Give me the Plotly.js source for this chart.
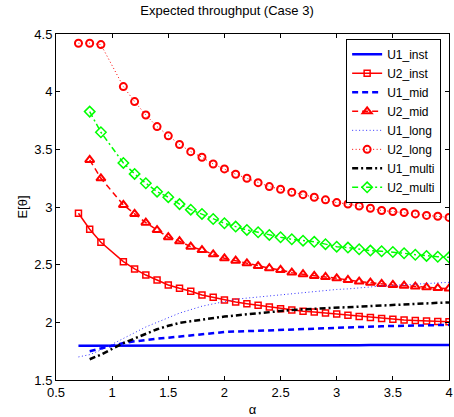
<!DOCTYPE html>
<html>
<head>
<meta charset="utf-8">
<script src="https://cdn.plot.ly/plotly-3.0.1.min.js"></script>
<style>html,body{margin:0;padding:0;background:#fff;}#chart{width:454px;height:417px;}</style>
</head>
<body>
<div id="chart"></div>
<script>
// alpha values (0.7 start / 0.8 start)
var alpha7 = [0.7,0.8,0.9,1.1,1.2,1.3,1.4,1.5,1.6,1.7,1.8,1.9,2.0,2.1,2.2,2.3,2.4,2.5,2.6,2.7,2.8,2.9,3.0,3.1,3.2,3.3,3.4,3.5,3.6,3.7,3.8,3.9,4.0];
var alpha8 = [0.8,0.9,1.1,1.2,1.3,1.4,1.5,1.6,1.7,1.8,1.9,2.0,2.1,2.2,2.3,2.4,2.5,2.6,2.7,2.8,2.9,3.0,3.1,3.2,3.3,3.4,3.5,3.6,3.7,3.8,3.9,4.0];

var U1_inst  = [1.796,1.796,1.797,1.797,1.797,1.798,1.798,1.798,1.798,1.799,1.799,1.799,1.799,1.800,1.800,1.800,1.800,1.801,1.801,1.801,1.801,1.802,1.802,1.802,1.802,1.803,1.803,1.803,1.803,1.804,1.804,1.804,1.804];
var U2_inst  = [2.946,2.807,2.694,2.526,2.463,2.410,2.367,2.324,2.295,2.270,2.237,2.217,2.194,2.176,2.162,2.148,2.133,2.118,2.107,2.096,2.089,2.080,2.072,2.061,2.050,2.041,2.033,2.026,2.020,2.016,2.012,2.008,2.005];
var U1_mid   = [1.750,1.775,1.820,1.835,1.848,1.858,1.867,1.878,1.887,1.897,1.907,1.916,1.920,1.924,1.928,1.931,1.934,1.937,1.940,1.944,1.948,1.955,1.957,1.960,1.963,1.966,1.968,1.970,1.972,1.974,1.976,1.978];
var U2_mid   = [3.408,3.249,3.018,2.940,2.864,2.800,2.738,2.703,2.656,2.627,2.590,2.555,2.535,2.512,2.488,2.469,2.454,2.431,2.417,2.402,2.393,2.382,2.367,2.353,2.344,2.333,2.324,2.318,2.310,2.304,2.297,2.293];
var U1_long  = [1.700,1.720,1.760,1.860,1.910,1.960,2.000,2.040,2.080,2.110,2.140,2.160,2.180,2.200,2.210,2.220,2.230,2.240,2.250,2.260,2.270,2.280,2.285,2.290,2.300,2.310,2.315,2.320,2.325,2.330,2.337,2.342,2.347];
var U2_long  = [4.420,4.420,4.408,4.044,3.914,3.798,3.697,3.617,3.542,3.480,3.431,3.373,3.330,3.284,3.249,3.211,3.177,3.154,3.128,3.107,3.085,3.062,3.038,3.026,3.009,2.989,2.970,2.960,2.952,2.940,2.927,2.920,2.910];
var U1_multi = [1.680,1.720,1.820,1.860,1.900,1.940,1.970,1.995,2.010,2.025,2.040,2.050,2.060,2.070,2.080,2.090,2.100,2.107,2.113,2.118,2.123,2.130,2.135,2.140,2.145,2.150,2.155,2.160,2.163,2.166,2.169,2.172];
var U2_multi = [3.827,3.648,3.382,3.287,3.206,3.133,3.085,3.025,2.977,2.940,2.896,2.859,2.830,2.801,2.781,2.758,2.738,2.720,2.708,2.698,2.678,2.656,2.648,2.634,2.622,2.616,2.610,2.599,2.586,2.576,2.569,2.564];

var names = ['U1_inst','U2_inst','U1_mid','U2_mid','U1_long','U2_long','U1_multi','U2_multi'];
var xTicks = [0.5,1,1.5,2,2.5,3,3.5,4];
var xTickText = ['0.5','1','1.5','2','2.5','3','3.5','4'];
var yTicks = [1.5,2,2.5,3,3.5,4,4.5];
var yTickText = ['1.5','2','2.5','3','3.5','4','4.5'];

var RED = '#ff0000', BLUE = '#0000ff', GREEN = '#00ff00', BLACK = '#000000';

var traces = [
  {x: alpha7, y: U1_inst, name: names[0], mode: 'lines', line: {color: BLUE, width: 2.5}},
  {x: alpha7, y: U2_inst, name: names[1], mode: 'lines+markers', line: {color: RED, width: 1.5},
   marker: {symbol: 'square-open', size: 6, color: RED, line: {width: 1.5, color: RED}}},
  {x: alpha8, y: U1_mid, name: names[2], mode: 'lines', line: {color: BLUE, width: 2.5, dash: '6px,4px'}},
  {x: alpha8, y: U2_mid, name: names[3], mode: 'lines+markers', line: {color: RED, width: 1.5, dash: '6px,4px'},
   marker: {symbol: 'triangle-up-open', size: 8, color: RED, line: {width: 2, color: RED}}},
  {x: alpha7, y: U1_long, name: names[4], mode: 'lines', line: {color: '#3333ff', width: 1, dash: '1px,2.5px'}},
  {x: alpha7, y: U2_long, name: names[5], mode: 'lines+markers', line: {color: RED, width: 1, dash: '1px,2.5px'},
   marker: {symbol: 'circle-open', size: 7, color: RED, line: {width: 2, color: RED}}},
  {x: alpha8, y: U1_multi, name: names[6], mode: 'lines', line: {color: BLACK, width: 2.5, dash: '6px,3px,2px,3px'}},
  {x: alpha8, y: U2_multi, name: names[7], mode: 'lines+markers', line: {color: GREEN, width: 1.5, dash: '6px,3px,2px,3px'},
   marker: {symbol: 'diamond-open', size: 8, color: GREEN, line: {width: 1.5, color: GREEN}}}
];

var FONT = 'Liberation Sans, Arial, sans-serif';

var layout = {
  width: 454, height: 417,
  margin: {l: 56, r: 5, t: 34, b: 37},
  paper_bgcolor: '#fff', plot_bgcolor: '#fff',
  font: {family: FONT, size: 13, color: '#000'},
  title: {text: 'Expected throughput (Case 3)', x: 0.5, xanchor: 'center', y: 0.985, yanchor: 'top',
          font: {family: FONT, size: 13, color: '#000'}},
  xaxis: {
    range: [0.5, 4], tickvals: xTicks, ticktext: xTickText, ticklabeloverflow: 'allow',
    ticks: 'inside', ticklen: 4, tickcolor: '#000', showline: true, linecolor: '#000', linewidth: 1,
    mirror: 'ticks', showgrid: false, zeroline: false,
    tickfont: {family: FONT, size: 13},
    automargin: false,
    title: {text: 'α', font: {family: FONT, size: 13}, standoff: 6}
  },
  yaxis: {
    range: [1.5, 4.5], tickvals: yTicks, ticktext: yTickText,
    ticks: 'inside', ticklen: 4, tickcolor: '#000', showline: true, linecolor: '#000', linewidth: 1,
    mirror: 'ticks', showgrid: false, zeroline: false,
    tickfont: {family: FONT, size: 13},
    automargin: true,
    title: {text: 'E[θ]', font: {family: FONT, size: 13}, standoff: 3}
  },
  showlegend: true,
  legend: {
    x: 0.98, xanchor: 'right', y: 0.986, yanchor: 'top',
    bordercolor: '#000', borderwidth: 1, bgcolor: '#fff',
    font: {family: FONT, size: 12, color: '#000'},
    itemwidth: 30, tracegroupgap: 0
  }
};

Plotly.newPlot('chart', traces, layout, {displayModeBar: false, staticPlot: true});
</script>
</body>
</html>
